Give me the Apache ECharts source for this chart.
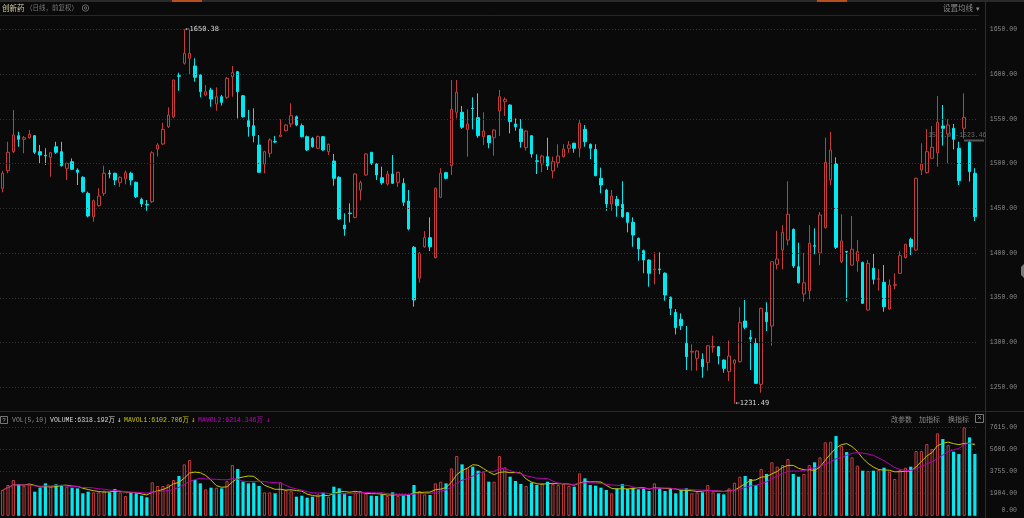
<!DOCTYPE html>
<html><head><meta charset="utf-8">
<script src="https://cdn.jsdelivr.net/npm/echarts@6/dist/echarts.min.js"></script>
<style>html,body{margin:0;padding:0;background:#0a0a0a;}#c{width:1024px;height:518px;}</style>
</head><body><div id="c"></div>
<script>
const opens=[1472.5,1492.2,1513.5,1531.4,1527.3,1529,1531.4,1513.5,1509.5,1507.2,1519,1513.5,1494.9,1502.3,1493,1484.8,1466.9,1440.7,1453.1,1466.9,1489.5,1489.3,1479.2,1483,1489.3,1479.2,1460.2,1454.5,1457.5,1516.5,1522.1,1541.4,1552.6,1598.6,1612.4,1618,1609.4,1599.3,1576.9,1582.5,1566.8,1575,1574.3,1597.4,1603,1576.1,1548.2,1542.6,1521,1499.7,1511.7,1525,1530.3,1537,1544.5,1552.6,1542.6,1530.3,1528.5,1517.3,1530.3,1513.5,1503,1484.8,1431.4,1444.8,1440,1470.6,1487.4,1512.8,1499.7,1484.4,1477.3,1488.5,1479.2,1478.1,1458.3,1406.5,1372,1407.1,1417.3,1394.9,1462.4,1490,1497.8,1557.6,1557.6,1538.5,1562.3,1551.6,1530.3,1531.4,1529.1,1559,1569.4,1565.7,1544.5,1538.9,1518,1531.4,1503.3,1499.7,1507.9,1491.9,1501.2,1507.9,1517.3,1522.9,1517.3,1538.5,1521.8,1516.1,1483.7,1470.6,1455,1460.2,1454.6,1445.2,1434.4,1416.5,1402.7,1392.2,1381.4,1382.2,1377.4,1350.5,1333.7,1325.9,1299,1289.2,1282.2,1281.1,1277.8,1294.8,1295.2,1280.3,1267.3,1276.6,1278.4,1324,1305.7,1299,1253.1,1333.7,1318.4,1387.4,1403.4,1414.6,1426.6,1384.7,1354.2,1357.9,1408.3,1400.2,1428.4,1481.8,1500,1390.3,1401.9,1386.6,1391.1,1389.6,1336.3,1383,1370.7,1367.3,1337.4,1364,1377.4,1394.9,1415.4,1403.4,1493,1490,1506.1,1512.3,1542.2,1533.3,1539.7,1517.3,1539.7,1524,1489.3];
const closes=[1489.3,1512.8,1532.2,1527.3,1529.1,1533,1512.8,1509.8,1508.8,1512.3,1512.8,1497.8,1500.5,1493.8,1490.4,1468.7,1441.5,1458.6,1463.9,1489.3,1488.5,1481.8,1484.8,1490,1481.8,1463,1455,1453.8,1512.3,1521,1538.5,1554.5,1593.7,1597.8,1623.6,1623.6,1596.7,1580.6,1580.6,1572.4,1575,1568.7,1595.6,1601.9,1580.6,1552.6,1541.4,1531.4,1490.4,1513.5,1526.6,1524.3,1532.2,1543.3,1553.7,1543.3,1530.3,1515.4,1519,1530.3,1515.4,1521.8,1483.7,1438.1,1427,1444.2,1488.5,1478.8,1510.9,1500.5,1487.4,1478.8,1488.5,1478.1,1490.4,1456.9,1427,1347.5,1400,1417.3,1407.1,1472.5,1489.3,1483.7,1560.9,1580,1540.8,1544.5,1561.6,1531.4,1536.6,1523.6,1537.7,1575,1572.1,1547.1,1541.4,1524.6,1536.6,1510.9,1502.7,1508.6,1497.5,1502.3,1508.6,1516.5,1521,1517.3,1545.3,1524.6,1517.3,1486.6,1476.2,1455,1463.9,1453.1,1440.7,1434.4,1420.2,1404.6,1392.2,1377.4,1382.2,1381.4,1353.1,1338.2,1316.5,1318.7,1284,1290,1290.4,1272.8,1296.3,1295.6,1284.8,1271,1284.8,1280.3,1322.1,1316.9,1303.8,1254.2,1338.2,1323.2,1390.3,1393.4,1423.3,1443.4,1385.5,1366.8,1366.8,1411,1407.7,1442.6,1501.6,1515.4,1406.4,1413.6,1401.3,1404.3,1401.6,1343.8,1388.5,1370.6,1371.3,1340,1364.3,1364.6,1397.1,1409.8,1407.1,1483.7,1499.7,1513.5,1518.4,1546.4,1539.7,1543.3,1527.3,1481,1551.9,1491.1,1440.7];
const lows=[1468,1489.3,1512,1519,1511.7,1528,1510.9,1500.5,1498.6,1485.5,1511,1496.7,1481.8,1493,1476.2,1467.5,1440,1435.1,1452,1464,1483.7,1476.2,1474,1477,1476,1461.5,1451.5,1447.4,1456,1508,1521,1540,1551,1581.7,1611,1599.3,1591.8,1574.3,1575.5,1563.8,1559.3,1565,1572.5,1575,1550.8,1551.5,1530.3,1524,1490,1489.3,1507.2,1523,1530,1536,1541,1542,1529.5,1514.5,1518,1516.5,1514.5,1509.8,1475.4,1437,1419.4,1434.4,1439,1459,1486.5,1498.5,1481.8,1476.5,1475.5,1477.5,1474,1452.7,1425.5,1340,1366.9,1406,1402.3,1394,1461.5,1482.5,1487.4,1550.8,1539,1507.9,1538.5,1529,1521,1517.3,1509,1531,1553.4,1534,1537,1518,1514.6,1506.8,1488.5,1490.4,1493,1483.7,1495.6,1507,1512.3,1512.3,1507.2,1519,1505.3,1486,1466.9,1447.4,1447.4,1440.7,1439.5,1423.2,1407.1,1391.5,1377.4,1362.4,1365,1376.3,1346.7,1330.7,1309,1313.9,1269.1,1268.4,1268.4,1260.5,1268.4,1288.5,1275.5,1266.1,1256.8,1231.49,1277.5,1314.7,1269.1,1253.5,1243.7,1312.8,1296.3,1381.8,1381.8,1408.7,1383.3,1366,1345.6,1348.3,1398.6,1386.6,1427.5,1476,1404.6,1388.6,1346.4,1386,1379.2,1343,1335.5,1365,1357.9,1334.4,1336.5,1359.5,1376.5,1394,1397.9,1402.5,1487.4,1489,1505.5,1496.7,1520.2,1500.5,1516.1,1476.2,1528.5,1480,1435.9];
const highs=[1492,1524.6,1560.1,1535.8,1531,1537.7,1532,1521,1517.3,1513,1524.6,1524.6,1501,1506,1494.9,1486,1468.7,1460,1472.5,1497.8,1493,1490,1486,1492.5,1491,1480,1462,1459.4,1514,1523,1545.9,1563.1,1594,1601.9,1650.38,1650,1618,1600,1588.1,1585,1585.5,1577,1597,1609.4,1604,1577,1560.1,1562,1532.2,1514.5,1528.5,1531,1549.7,1544.5,1567.6,1554,1545,1531.5,1530,1531.5,1531,1522.5,1510.9,1486,1444.5,1455.7,1489.5,1481,1512,1513,1500.5,1496.7,1492,1509.8,1491,1483.7,1470.6,1408,1401,1424.7,1440,1473.5,1494.9,1491,1593.7,1593.7,1564.6,1560.9,1574.3,1578.8,1557.6,1532,1538.5,1582.5,1574.3,1566.5,1550.8,1550,1537.5,1532,1510.5,1510,1529.1,1507.9,1521.8,1521.8,1525.4,1523.5,1549.7,1543.3,1522.5,1521.8,1495.6,1472,1470.6,1463.9,1480.4,1446,1440,1417.5,1404,1393,1400.9,1400.9,1378.5,1351.5,1337.4,1332.6,1318.4,1297.9,1291,1287.8,1297,1307.5,1296,1281,1302.1,1281,1339.4,1347.5,1313.9,1304.6,1339,1344.9,1391,1425,1431.4,1480.4,1427.5,1411.6,1400.2,1431.4,1427.7,1446,1529.1,1535.8,1507.2,1443.4,1402.5,1441.5,1414.6,1390.5,1392.3,1399.8,1382.2,1386.6,1370.6,1377.4,1402.3,1410.5,1417.3,1484.5,1522.9,1538.9,1542.2,1575.8,1565.7,1549.7,1544.5,1524.6,1578.8,1525,1494.9];
const volumes=[2219,2649,3079,2735,2563,2649,2076,2420,2792,2506,2706,2649,2506,2420,2362,1932,2076,2018,2018,2162,2018,2305,2018,1703,2018,1932,1731,1588,2878,2563,2563,2706,3079,3423,4426,4799,3079,2792,2276,2420,2420,2362,2993,4369,4025,2936,2792,2850,2563,2018,2018,1932,2878,2219,2161,1645,1731,1559,1645,1846,1989,1645,2505,2362,1932,1703,2018,2133,1932,1731,1703,1846,1703,2018,1703,1731,1789,2649,2133,1846,1789,2792,2936,2792,4082,5143,4427,4082,4226,3882,3739,2936,2936,5143,4168,3366,2993,2735,2563,2850,2649,2792,2936,2735,2649,2735,2563,2506,3653,3222,2649,2592,2420,2219,1932,2362,2735,2305,2420,2276,2362,2133,2792,2362,2133,2330,1932,2219,2362,1932,2018,2018,2649,2018,1932,1846,2362,2850,3366,3423,3165,2649,4025,3595,4599,4226,4369,4885,3595,3366,3595,4369,4599,5029,6317,6374,6862,6030,5486,5029,4312,3882,3853,3882,3939,4140,3796,3165,3939,4140,4226,5573,5573,6175,5745,7095,6605,6089,5516,5315,7609,6748,5316];
const categories=opens.map((_,i)=>'D'+(i+1));
const priceTicks=[1250,1300,1350,1400,1450,1500,1550,1600,1650];
const volTickLabels=['0.00','1904.00','3755.00','5606.00','7615.00'];
const volMax=7615;
const highMark={idx:34,value:1650.38};
const lowMark={idx:137,value:1231.49};

function movingAvg(n){
  return volumes.map((v,i)=>{const s=Math.max(0,i-n+1);let sum=0;for(let k=s;k<=i;k++)sum+=volumes[k];return +(sum/(i-s+1)).toFixed(2);});
}
const ma5=movingAvg(5), ma10=movingAvg(10);

const RED='#c43c3c', CYAN='#00e8f0', BG='#0a0a0a';
const MONO='"Liberation Mono","DejaVu Sans Mono","Noto Sans CJK SC",monospace';
const ARW='"DejaVu Sans Mono","Liberation Mono",monospace';
const CJK='"Noto Sans CJK SC",sans-serif';

const candleData=opens.map((o,i)=>[o,closes[i],lows[i],highs[i]]);
const volData=volumes.map((v,i)=>({value:v,itemStyle:closes[i]>=opens[i]?{color:BG,borderColor:RED,borderWidth:1}:{color:CYAN,borderWidth:0}}));

const GL=-1.5, GW=979.05;
const chart=echarts.init(document.getElementById('c'),null,{renderer:'canvas'});
const txt=(x,y,t,color,size,font,align)=>({type:'text',x:x,y:y,silent:true,style:{text:t,fill:color,font:size+'px '+font,textAlign:align||'left',textVerticalAlign:'middle'}});
chart.setOption({
  animation:false,
  backgroundColor:BG,
  grid:[
    {left:GL,width:GW,top:16,height:394},
    {left:GL,width:GW,top:427.3,height:88.5}
  ],
  xAxis:[
    {type:'category',gridIndex:0,data:categories,boundaryGap:true,axisLine:{show:false},axisTick:{show:false},axisLabel:{show:false},splitLine:{show:false}},
    {type:'category',gridIndex:1,data:categories,boundaryGap:true,axisLine:{show:false},axisTick:{show:false},axisLabel:{show:false},splitLine:{show:false}}
  ],
  yAxis:[
    {type:'value',gridIndex:0,min:1224.4,max:1665.33,position:'right',scale:true,
      axisLine:{show:false},axisTick:{show:false},splitLine:{show:false},
      axisLabel:{customValues:priceTicks,formatter:v=>v.toFixed(2),align:'right',margin:39.5,color:'#8a8a8a',fontSize:6.5,fontFamily:MONO}},
    {type:'value',gridIndex:1,min:0,max:volMax,interval:volMax/4,position:'right',
      axisLine:{show:false},axisTick:{show:false},
      splitLine:{show:true,showMinLine:false,lineStyle:{color:'#333',type:[1,2],width:1}},
      axisLabel:{showMinLabel:false,formatter:v=>volTickLabels[Math.round(v/(volMax/4))],align:'right',margin:39.5,color:'#8a8a8a',fontSize:6.5,fontFamily:MONO}}
  ],
  series:[
    {type:'candlestick',xAxisIndex:0,yAxisIndex:0,data:candleData,barWidth:3,
      itemStyle:{color:BG,color0:CYAN,borderColor:RED,borderColor0:CYAN,borderWidth:1},
      markLine:{silent:true,symbol:['none','none'],label:{show:false},lineStyle:{color:'#333',type:[1,2],width:1},
        data:priceTicks.map(v=>({yAxis:v}))},
      markPoint:{silent:true,symbolSize:0,
        data:[
          {coord:[highMark.idx,highMark.value],label:{show:true,position:'right',distance:1,formatter:'←'+highMark.value.toFixed(2),color:'#d8d8d8',fontSize:7,fontFamily:ARW}},
          {coord:[lowMark.idx,lowMark.value],label:{show:true,position:'right',distance:1,formatter:'←'+lowMark.value.toFixed(2),color:'#d8d8d8',fontSize:7,fontFamily:ARW}}
        ]}
    },
    {type:'bar',xAxisIndex:1,yAxisIndex:1,data:volData,barWidth:3.2},
    {type:'line',xAxisIndex:1,yAxisIndex:1,data:ma5,symbol:'none',smooth:false,lineStyle:{color:'#c8c400',width:1}},
    {type:'line',xAxisIndex:1,yAxisIndex:1,data:ma10,symbol:'none',smooth:false,lineStyle:{color:'#b400b4',width:1}}
  ],
  graphic:[
    {type:'line',silent:true,shape:{x1:0,y1:1,x2:1024,y2:1},style:{stroke:'#2a2a2a',lineWidth:2}},
    {type:'rect',silent:true,shape:{x:172,y:0,width:30,height:2},style:{fill:'#b8501e'}},
    {type:'rect',silent:true,shape:{x:817,y:0,width:30,height:2},style:{fill:'#b8501e'}},
    {type:'line',silent:true,shape:{x1:0,y1:15.5,x2:979,y2:15.5},style:{stroke:'#262626',lineWidth:1}},
    {type:'line',silent:true,shape:{x1:985.5,y1:0,x2:985.5,y2:518},style:{stroke:'#2e2e2e',lineWidth:1}},
    {type:'line',silent:true,shape:{x1:0,y1:411.5,x2:1024,y2:411.5},style:{stroke:'#2a2a2a',lineWidth:1}},
    txt(2,8,'创新药','#d0caa0',7.5,CJK),
    txt(26,8,'（日线，前复权）','#7a7a7a',6.5,CJK),
    {type:'circle',silent:true,shape:{cx:85.5,cy:8,r:3.2},style:{fill:'none',stroke:'#666',lineWidth:1}},
    {type:'circle',silent:true,shape:{cx:85.5,cy:8,r:1.2},style:{fill:'none',stroke:'#666',lineWidth:1}},
    txt(943,8,'设置均线','#8a8a8a',7.5,CJK),
    txt(976,8,'▾','#8a8a8a',7,CJK),
    {type:'rect',silent:true,shape:{x:0.5,y:416.5,width:7,height:7},style:{fill:'none',stroke:'#777',lineWidth:1}},
    txt(4,420,'?','#aaa',6,MONO,'center'),
    txt(12,420,'VOL(5,10)','#8a8a8a',6.5,MONO),
    txt(50,420,'VOLUME:6318.192万','#d8d8d8',6.5,MONO),
    txt(117,420,'↓','#d8d8d8',7.5,ARW),
    txt(124,420,'MAVOL1:6102.706万','#c8c400',6.5,MONO),
    txt(191,420,'↓','#c8c400',7.5,ARW),
    txt(198,420,'MAVOL2:6214.346万','#c000c0',6.5,MONO),
    txt(266,420,'↓','#c000c0',7.5,ARW),
    txt(891,419,'改参数','#8a8a8a',7,CJK),
    txt(919,419,'加指标','#8a8a8a',7,CJK),
    txt(948,419,'换指标','#8a8a8a',7,CJK),
    {type:'rect',silent:true,shape:{x:975.5,y:414.5,width:8,height:8},style:{fill:'none',stroke:'#777',lineWidth:1}},
    txt(979.5,418.5,'×','#999',7,MONO,'center'),
    txt(1017,510,'0.00','#8a8a8a',6.5,MONO,'right'),
    txt(928,135,'1527.97-1523.46','#6a6a6a',6.5,MONO),
    {type:'rect',silent:true,shape:{x:964,y:139.5,width:20,height:2},style:{fill:'#555'}},
    {type:'polygon',silent:true,shape:{points:[[1024,264],[1021,267],[1021,275],[1024,278]]},style:{fill:'#777'}}
  ]
});
</script></body></html>
